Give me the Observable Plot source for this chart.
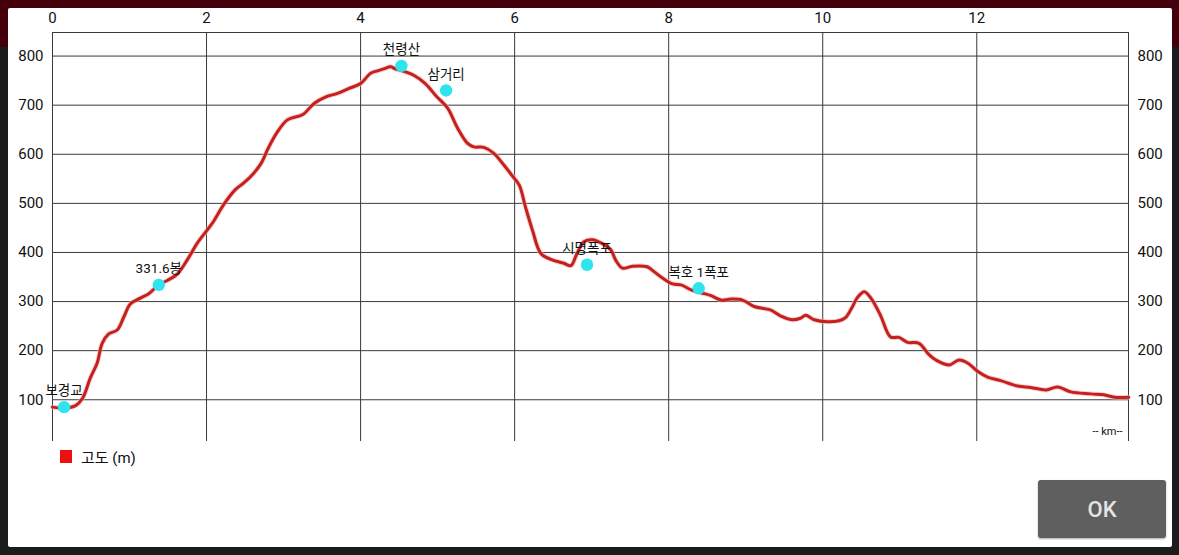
<!DOCTYPE html>
<html>
<head>
<meta charset="utf-8">
<script src="https://cdn.jsdelivr.net/npm/d3@7"></script>
<script src="https://cdn.jsdelivr.net/npm/@observablehq/plot@0.6"></script>
<style>
  html, body { margin: 0; padding: 0; width: 1179px; height: 555px; overflow: hidden; background: #1c1c1c; font-family: Roboto, "Noto Sans CJK KR", sans-serif; }
  #topband { position: absolute; left: 0; top: 0; width: 1179px; height: 47px; background: #43000c; }
  #panel { position: absolute; left: 8px; top: 8px; width: 1164px; height: 539px; background: #fff; border-radius: 2px; }
  #chart { position: absolute; left: 0; top: 0; }
  #legend { position: absolute; left: 60px; top: 446px; display: flex; align-items: center; font-size: 15px; color: #111; }
  #legend .sw { width: 12px; height: 13px; background: #ee0f0f; margin-right: 9px; }
  #ok { position: absolute; left: 1038px; top: 480px; width: 128px; height: 58px; background: #5f5f5f; border-radius: 3px; box-shadow: 0 1px 2px rgba(0,0,0,0.35); color: #e4e4e4; font: 500 22px Roboto, sans-serif; display: flex; align-items: center; justify-content: center; }
</style>
</head>
<body>
<div id="topband"></div>
<div id="panel"></div>
<div id="chart"></div>
<div id="legend"><div class="sw"></div><span>고도 (m)</span></div>
<div id="ok">OK</div>
<script>
// Elevation profile (distance in km, elevation in m)
const km = [0, 0.15, 0.30, 0.39, 0.49, 0.58, 0.645, 0.73, 0.84, 0.93, 1.01, 1.14, 1.25, 1.38, 1.49, 1.62, 1.75, 1.88, 2.01, 2.09, 2.22, 2.38, 2.48, 2.61, 2.71, 2.80, 2.91, 3.05, 3.25, 3.40, 3.55, 3.70, 3.85, 4.0, 4.13, 4.22, 4.30, 4.39, 4.45, 4.54, 4.69, 4.84, 4.99, 5.13, 5.26, 5.39, 5.47, 5.60, 5.73, 5.86, 5.97, 6.06, 6.14, 6.23, 6.34, 6.47, 6.64, 6.73, 6.81, 6.90, 7.01, 7.14, 7.25, 7.31, 7.40, 7.53, 7.72, 7.81, 7.92, 8.05, 8.16, 8.29, 8.42, 8.55, 8.68, 8.81, 8.96, 9.11, 9.32, 9.45, 9.61, 9.71, 9.78, 9.89, 10.06, 10.21, 10.30, 10.38, 10.45, 10.54, 10.63, 10.75, 10.88, 10.99, 11.10, 11.25, 11.38, 11.47, 11.64, 11.77, 11.88, 12.01, 12.14, 12.31, 12.53, 12.70, 12.90, 13.05, 13.22, 13.48, 13.65, 13.79, 13.97];
const elev = [85, 83, 88, 103, 144, 175, 215, 234, 242, 270, 295, 307, 316, 334, 343, 356, 385, 419, 446, 463, 497, 529, 541, 561, 582, 612, 643, 670, 681, 704, 717, 724, 734, 744, 765, 770, 774, 778, 774, 770, 761, 744, 717, 694, 653, 622, 615, 614, 602, 578, 556, 537, 493, 446, 398, 386, 378, 373, 398, 422, 426, 418, 405, 385, 368, 372, 371, 361, 348, 336, 334, 324, 318, 312, 303, 305, 303, 290, 283, 271, 263, 266, 272, 263, 259, 261, 268, 288, 308, 320, 306, 272, 228, 227, 217, 215, 192, 181, 171, 181, 175, 158, 146, 139, 128, 125, 120, 126, 116, 112, 110, 105, 105];

// Waypoints
const wpNames = ["보경교", "331.6봉", "천령산", "삼거리", "시명폭포", "복호 1폭포"];
const wpKm = [0.15, 1.38, 4.53, 5.11, 6.94, 8.39];
const wpElev = [85, 334, 780, 730, 375, 327];

// Axis ticks
const xTicks = [0, 2, 4, 6, 8, 10, 12];
const yTicks = [100, 200, 300, 400, 500, 600, 700, 800];
const xMax = 13.97;
const yDomain = [15, 848];

const profile = km.map((k, i) => ({km: k, elev: elev[i]}));
const waypoints = wpNames.map((n, i) => ({name: n, km: wpKm[i], elev: wpElev[i]}));

const gridColor = "#3a3a3a";

const chart = Plot.plot({
  width: 1179,
  height: 445,
  marginLeft: 52,
  marginRight: 51,
  marginTop: 32,
  marginBottom: 4,
  x: {domain: [0, xMax], axis: null, label: null},
  y: {domain: yDomain, axis: null, label: null},
  style: {background: "transparent", fontFamily: "Roboto, 'Noto Sans CJK KR', sans-serif", fontSize: "15px", color: "#111"},
  marks: [
    Plot.gridX(xTicks, {stroke: gridColor, strokeOpacity: 1, strokeWidth: 1}),
    Plot.gridY(yTicks, {stroke: gridColor, strokeOpacity: 1, strokeWidth: 1}),
    Plot.ruleY([yDomain[1]], {stroke: gridColor, strokeWidth: 1}),
    Plot.ruleX([xMax], {stroke: gridColor, strokeWidth: 1}),
    Plot.axisX(xTicks, {anchor: "top", tickSize: 0, tickPadding: 10, label: null, fontSize: 15}),
    Plot.axisY(yTicks, {anchor: "left", tickSize: 0, tickPadding: 9, label: null, fontSize: 15}),
    Plot.axisY(yTicks, {anchor: "right", tickSize: 0, tickPadding: 9, label: null, fontSize: 15}),
    Plot.line(profile, {x: "km", y: "elev", stroke: "#f2b3b3", strokeWidth: 5, strokeOpacity: 0.6, curve: "catmull-rom"}),
    Plot.line(profile, {x: "km", y: "elev", stroke: "#c4201e", strokeWidth: 3, curve: "catmull-rom"}),
    Plot.dot(waypoints, {x: "km", y: "elev", r: 6.2, fill: "#2ee5ef", stroke: "none"}),
    Plot.text(waypoints, {x: "km", y: "elev", text: "name", dy: -16, fontSize: 13.5, fill: "#111"}),
    Plot.text(["-- km--"], {frameAnchor: "bottom-right", dx: -6, dy: -7, fontSize: 11, fill: "#111"})
  ]
});
document.getElementById("chart").appendChild(chart);
</script>
</body>
</html>
